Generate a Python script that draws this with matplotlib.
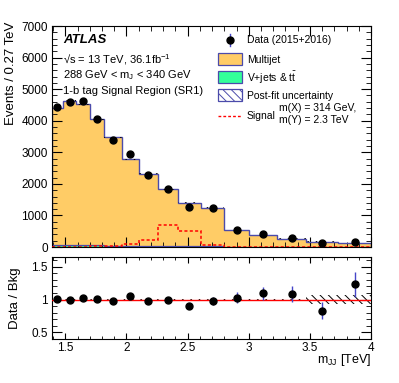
import numpy as np
import matplotlib
matplotlib.use('Agg')
import matplotlib.pyplot as plt
from matplotlib.patches import Rectangle
from matplotlib.ticker import MultipleLocator, FuncFormatter

plt.rcParams['font.family'] = ['Liberation Sans', 'DejaVu Sans']
plt.rcParams['mathtext.fontset'] = 'custom'
plt.rcParams['mathtext.rm'] = 'Liberation Sans'
plt.rcParams['mathtext.it'] = 'Liberation Sans:italic'
plt.rcParams['hatch.linewidth'] = 0.7

# m_JJ bin edges [TeV]
edges = [1.39, 1.48, 1.59, 1.70, 1.82, 1.96, 2.10, 2.26, 2.42, 2.61,
         2.80, 3.00, 3.23, 3.47, 3.73, 4.00]
multijet = [4330, 4570, 4465, 3990, 3435, 2740, 2285, 1805, 1375, 1230,
            523, 372, 265, 165, 123]
vjets = [60, 60, 55, 50, 45, 40, 35, 30, 25, 20, 12, 8, 5, 3, 2]
data = [4434, 4607, 4633, 4060, 3393, 2947, 2285, 1826, 1274, 1225,
        551, 416, 292, 139, 154]
ratio_err = [0.02, 0.02, 0.02, 0.02, 0.02, 0.025, 0.025, 0.03, 0.035, 0.06,
             0.085, 0.1, 0.12, 0.13, 0.19]
bkg_unc = [0.005, 0.005, 0.005, 0.005, 0.006, 0.006, 0.008, 0.01, 0.012, 0.014,
           0.015, 0.015, 0.015, 0.07, 0.07]
signal = [8, 10, 12, 20, 35, 95, 220, 690, 520, 50, 15, 8, 5, 3, 2]

edges = np.array(edges)
centers = 0.5 * (edges[1:] + edges[:-1])
vjets = np.array(vjets, dtype=float)
bkg = vjets + np.array(multijet, dtype=float)
data = np.array(data, dtype=float)
ratio_err = np.array(ratio_err)
bkg_unc = np.array(bkg_unc)
ratio = data / bkg

orange = '#ffcc66'
green = '#33ff99'
navy = '#4b4bab'
ebar = '#4545c8'
hatch = '\\\\\\\\'

fig = plt.figure(figsize=(3.99, 3.83), dpi=100)
ax = fig.add_axes([0.130, 0.355, 0.800, 0.577])
ax2 = fig.add_axes([0.130, 0.115, 0.800, 0.214])

# main panel
ax.stairs(vjets, edges, baseline=0, fill=True, color=green, zorder=1)
ax.stairs(bkg, edges, baseline=vjets, fill=True, color=orange, zorder=1)
ax.stairs(vjets, edges, color=navy, lw=0.9, zorder=2)
ax.stairs(bkg, edges, color=navy, lw=1.0, zorder=2)
ax.stairs(bkg * (1 + bkg_unc), edges, baseline=bkg * (1 - bkg_unc), fill=True,
          facecolor='none', edgecolor='black', hatch=hatch, lw=0, zorder=3)
ax.stairs(signal, edges, color='red', lw=1.1, linestyle=(0, (2, 1.5)), zorder=3)
ax.errorbar(centers, data, yerr=ratio_err * bkg * 0.5, fmt='o', color='black',
            ecolor=ebar, elinewidth=1, ms=5, capsize=0, zorder=4)

ax.set_xlim(edges[0], 4.0)
ax.set_ylim(0, 7000)
ax.xaxis.set_major_locator(MultipleLocator(0.5))
ax.xaxis.set_minor_locator(MultipleLocator(0.1))
ax.yaxis.set_major_locator(MultipleLocator(1000))
ax.yaxis.set_minor_locator(MultipleLocator(200))
ax.tick_params(which='both', direction='in', top=True, right=True,
               labelbottom=False, labelsize=8.5, pad=3)
ax.tick_params(which='major', length=7)
ax.tick_params(which='minor', length=3.5)
ax.set_ylabel('Events / 0.27 TeV', fontsize=9.5, loc='top')
ax.yaxis.set_label_coords(-0.11, 1.02)


def to_ax(px, py):
    return (px - 52) / 319, (247 - py) / 221


# labels
x0, _ = to_ax(63, 0)
ax.text(x0, to_ax(0, 39.5)[1], 'ATLAS', transform=ax.transAxes, fontsize=9.5,
        fontweight='bold', fontstyle='italic', va='center')
ax.text(x0, to_ax(0, 60)[1], '√s = 13 TeV, 36.1fb$^{-1}$', transform=ax.transAxes,
        fontsize=8, va='center')
ax.text(x0, to_ax(0, 75)[1], r'288 GeV < $\mathrm{m_J}$ < 340 GeV',
        transform=ax.transAxes, fontsize=8, va='center')
ax.text(x0, to_ax(0, 91)[1], '1-b tag Signal Region (SR1)', transform=ax.transAxes,
        fontsize=8, va='center')

# legend
bx, _ = to_ax(218, 0)
bw = 24 / 319
bh = 12 / 221
tx, _ = to_ax(247, 0)
mx, my = to_ax(230, 40)
ax.plot([mx, mx], [to_ax(0, 46)[1], to_ax(0, 34)[1]], color=ebar, lw=1,
        transform=ax.transAxes, clip_on=False)
ax.plot([mx], [my], 'o', color='black', ms=5, transform=ax.transAxes, clip_on=False)
ax.text(tx, my, 'Data (2015+2016)', transform=ax.transAxes, fontsize=7.5, va='center')
entries = [(65, orange, None, 'Multijet'),
           (83, green, None, r'V+jets & t$\bar{\mathrm{t}}$'),
           (101, 'white', hatch, 'Post-fit uncertainty')]
for py, fc, h, lab in entries:
    ax.add_patch(Rectangle((bx, to_ax(0, py)[1]), bw, bh, transform=ax.transAxes,
                           facecolor=fc, edgecolor=navy, lw=0.9, hatch=h,
                           clip_on=False, zorder=5))
    ax.text(tx, to_ax(0, py - 6)[1] - 0.004, lab, transform=ax.transAxes,
            fontsize=7.5, va='center')
sy = to_ax(0, 116)[1]
ax.plot([bx, bx + bw], [sy, sy], color='red', lw=1.0, linestyle=(0, (2, 1.5)),
        transform=ax.transAxes)
ax.text(tx, sy, 'Signal', transform=ax.transAxes, fontsize=7.5, va='center')
ax.text(to_ax(279, 0)[0], to_ax(0, 108)[1], 'm(X) = 314 GeV,', transform=ax.transAxes,
        fontsize=7.5, va='center')
ax.text(to_ax(279, 0)[0], to_ax(0, 120)[1], 'm(Y) = 2.3 TeV', transform=ax.transAxes,
        fontsize=7.5, va='center')

# ratio panel
ax2.stairs(1 + bkg_unc, edges, baseline=1 - bkg_unc, fill=True, facecolor='none',
           edgecolor='black', hatch=hatch, lw=0, zorder=2)
ax2.axhline(1, color='red', lw=1.0, zorder=3)
ax2.errorbar(centers, ratio, yerr=ratio_err, fmt='o', color='black', ecolor=ebar,
             elinewidth=1, ms=5, capsize=0, zorder=4)
ax2.set_xlim(edges[0], 4.0)
ax2.set_ylim(0.4, 1.65)
ax2.xaxis.set_major_locator(MultipleLocator(0.5))
ax2.xaxis.set_minor_locator(MultipleLocator(0.1))
ax2.yaxis.set_major_locator(MultipleLocator(0.5))
ax2.yaxis.set_minor_locator(MultipleLocator(0.1))
fmt = FuncFormatter(lambda v, p: '{:g}'.format(round(v, 2)))
ax2.xaxis.set_major_formatter(fmt)
ax2.yaxis.set_major_formatter(fmt)
ax2.tick_params(which='both', direction='in', top=True, right=True, labelsize=8.5)
ax2.tick_params(axis='x', pad=2)
ax2.tick_params(axis='y', pad=3)
ax2.tick_params(axis='y', which='major', length=7)
ax2.tick_params(axis='y', which='minor', length=3.5)
ax2.tick_params(axis='x', which='major', length=4.5)
ax2.tick_params(axis='x', which='minor', length=2.3)
ax2.set_ylabel('Data / Bkg', fontsize=9.5)
ax2.yaxis.set_label_coords(-0.097, 0.5)
ax2.set_xlabel(r'$\mathrm{m_{JJ}}$ [TeV]', fontsize=9, loc='right')
ax2.xaxis.set_label_coords(1.0, -0.165)

fig.savefig('out.png', dpi=100)
